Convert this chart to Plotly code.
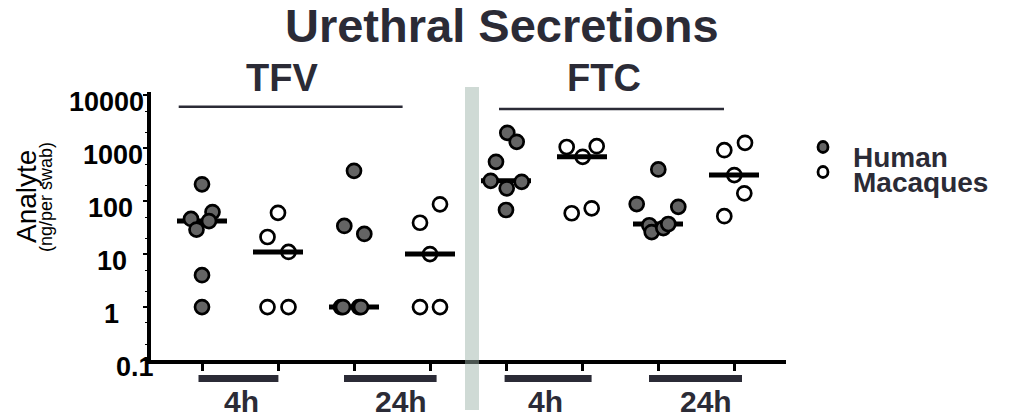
import numpy as np
import plotly.graph_objects as go

# ---------------- data ----------------
GROUP_NAMES = ["TFV 4h Human", "TFV 4h Macaques", "TFV 24h Human", "TFV 24h Macaques",
               "FTC 4h Human", "FTC 4h Macaques", "FTC 24h Human", "FTC 24h Macaques"]
SPECIES = ["Human", "Macaques", "Human", "Macaques", "Human", "Macaques", "Human", "Macaques"]

TFV_4H_HUMAN = [207, 62, 46, 42, 29, 4.0, 1.0]
TFV_4H_MACAQUE = [60, 21, 11, 1, 1]
TFV_24H_HUMAN = [373, 34, 24, 1, 1, 1, 1]
TFV_24H_MACAQUE = [87, 39, 10, 1, 1]
FTC_4H_HUMAN = [1945, 1315, 552, 242, 174, 231, 68]
FTC_4H_MACAQUE = [1050, 685, 1090, 59, 73]
FTC_24H_HUMAN = [396, 88, 78, 35, 26, 31, 37]
FTC_24H_MACAQUE = [917, 1259, 310, 140, 52]

GROUP_VALUES = [TFV_4H_HUMAN, TFV_4H_MACAQUE, TFV_24H_HUMAN, TFV_24H_MACAQUE,
                FTC_4H_HUMAN, FTC_4H_MACAQUE, FTC_24H_HUMAN, FTC_24H_MACAQUE]

Y_TICK_VALUES = [10000, 1000, 100, 10, 1, 0.1]
Y_TICK_LABELS = ["10000", "1000", "100", "10", "1", "0.1"]
DRUG_LABELS = ["TFV", "FTC"]
TIME_LABELS = ["4h", "24h", "4h", "24h"]
LEGEND_LABELS = ["Human", "Macaques"]
TITLE = "Urethral Secretions"
Y_TITLE_1 = "Analyte"
Y_TITLE_2 = "(ng/per swab)"

# ---------------- layout / styling (pixels) ----------------
W, H = 1011, 418
PL, PR, PT, PB = 151, 786, 92, 360          # plot area in pixels
X0_PX, X_STEP = 202, 76                      # pixel of category 0, pixels per category
X_RANGE = [(PL - X0_PX) / X_STEP, (PR - X0_PX) / X_STEP]
Y_RANGE = [-1, 4.06]

# horizontal jitter of the dots (pixels), purely visual
JITTER_PX = [
    [0, 10.5, -11, 7, -5.5, 0, 0],
    [0, -10.5, 10.5, -10.5, 10.5],
    [0, -9.7, 10.3, -13, -11, 5, 7],
    [10, -10, 0, -10, 10],
    [1.3, 10.7, -10, -15.3, 0.7, 15.7, 0],
    [-15.3, 0.7, 14.7, -10.3, 9.7],
    [0.3, -21.3, 20.3, -8.7, -6.3, 5.3, 10.3],
    [-9.7, 11, 0.3, 10.3, -9.7],
]
MEDIAN_HALF = 25 / X_STEP

TEXT_DARK = "#2b2b36"
FILL_GRAY = "#646464"
FONT = "Liberation Sans, Arial, sans-serif"


def px_x(px):
    return (px - PL) / (PR - PL)


def px_y(py):
    return (PB - py) / (PB - PT)


fig = go.Figure()

for i, (vals, sp) in enumerate(zip(GROUP_VALUES, SPECIES)):
    xs = [i + j / X_STEP for j in JITTER_PX[i]]
    med = float(np.median(vals))
    human = sp == "Human"
    marker = dict(size=14, color=FILL_GRAY if human else "white",
                  line=dict(color="black", width=2.7))
    med_trace = go.Scatter(x=[i - MEDIAN_HALF, i + MEDIAN_HALF], y=[med, med],
                           mode="lines", line=dict(color="black", width=5),
                           hoverinfo="skip", showlegend=False)
    pts = go.Scatter(x=xs, y=vals, mode="markers", marker=marker,
                     name=GROUP_NAMES[i], showlegend=False)
    if human:
        fig.add_trace(med_trace)
        fig.add_trace(pts)
    else:
        fig.add_trace(pts)
        fig.add_trace(med_trace)

fig.update_xaxes(range=X_RANGE, showgrid=False, zeroline=False,
                 showline=True, linecolor="black", linewidth=3.5,
                 tickmode="array", tickvals=list(range(len(GROUP_NAMES))),
                 ticks="outside", ticklen=7, tickwidth=3, tickcolor="black",
                 showticklabels=False)
fig.update_yaxes(type="log", range=Y_RANGE, showgrid=False, zeroline=False,
                 showline=True, linecolor="black", linewidth=4,
                 tickmode="array", tickvals=Y_TICK_VALUES,
                 ticks="outside", ticklen=4, tickwidth=2, tickcolor="black",
                 minor=dict(ticks="outside", ticklen=2, tickwidth=1, tickcolor="black"),
                 showticklabels=False)

ann = []
# y tick labels
LABEL_CX = [106, 113, 110.5, 112, 111.5, 135]
for v, t, cx in zip(Y_TICK_VALUES, Y_TICK_LABELS, LABEL_CX):
    ann.append(dict(x=px_x(cx), xref="paper", y=np.log10(v), yref="y", text=t,
                    showarrow=False, xanchor="center", yanchor="middle", yshift=-7,
                    font=dict(family=FONT, size=27, color="black", weight="bold")))
# y title
ann.append(dict(x=px_x(26), xref="paper", y=px_y(197), yref="paper", text=Y_TITLE_1,
                textangle=-90, showarrow=False, xanchor="center", yanchor="middle",
                font=dict(family=FONT, size=28, color="black")))
ann.append(dict(x=px_x(46), xref="paper", y=px_y(197), yref="paper", text=Y_TITLE_2,
                textangle=-90, showarrow=False, xanchor="center", yanchor="middle",
                font=dict(family=FONT, size=18, color="black")))
# title
ann.append(dict(x=px_x(502), xref="paper", y=px_y(25), yref="paper", text=TITLE,
                showarrow=False, xanchor="center", yanchor="middle",
                font=dict(family=FONT, size=47, color=TEXT_DARK, weight="bold")))
# drug labels
for lab, cx in zip(DRUG_LABELS, [282, 603.5]):
    ann.append(dict(x=px_x(cx), xref="paper", y=px_y(78), yref="paper", text=lab,
                    showarrow=False, xanchor="center", yanchor="middle",
                    font=dict(family=FONT, size=38, color=TEXT_DARK, weight="bold")))
# time labels
for lab, cx in zip(TIME_LABELS, [241, 401, 545, 706]):
    ann.append(dict(x=px_x(cx), xref="paper", y=px_y(401), yref="paper", text=lab,
                    showarrow=False, xanchor="center", yanchor="middle",
                    font=dict(family=FONT, size=30, color=TEXT_DARK, weight="bold")))
# legend labels
for lab, cy in zip(LEGEND_LABELS, [157, 182]):
    ann.append(dict(x=px_x(851), xref="paper", y=px_y(cy), yref="paper", text=lab,
                    showarrow=False, xanchor="left", yanchor="middle",
                    font=dict(family=FONT, size=28, color=TEXT_DARK, weight="bold")))

shapes = []
# drug underline bars
for (a, b, yy) in [(178.7, 402.6, 106.7), (499, 724, 109)]:
    shapes.append(dict(type="line", xref="paper", yref="paper",
                       x0=px_x(a), x1=px_x(b), y0=px_y(yy), y1=px_y(yy),
                       line=dict(color=TEXT_DARK, width=2.4)))
# time bars below axis
for (a, b) in [(198.5, 278.4), (344, 436.6), (504.6, 591.6), (649, 742)]:
    shapes.append(dict(type="rect", xref="paper", yref="paper",
                       x0=px_x(a), x1=px_x(b), y0=px_y(375), y1=px_y(382),
                       line=dict(width=0), fillcolor=TEXT_DARK))
# gray separator
shapes.append(dict(type="rect", xref="paper", yref="paper", layer="above",
                   x0=px_x(465), x1=px_x(479), y0=px_y(87), y1=px_y(410),
                   line=dict(width=0), fillcolor="rgb(155,178,167)", opacity=0.48))
# legend symbols
for cy, fill in [(147, FILL_GRAY), (172, "white")]:
    shapes.append(dict(type="circle", xref="paper", yref="paper",
                       xsizemode="pixel", ysizemode="pixel",
                       xanchor=px_x(823), yanchor=px_y(cy),
                       x0=-5, x1=5, y0=-5.5, y1=5.5,
                       fillcolor=fill, line=dict(color="black", width=2.8)))

fig.update_layout(width=W, height=H, autosize=False,
                  margin=dict(l=PL, r=W - PR, t=PT, b=H - PB, pad=0),
                  paper_bgcolor="white", plot_bgcolor="white",
                  annotations=ann, shapes=shapes, showlegend=False)

fig.write_html("out.html", config={"displayModeBar": False},
               post_script="document.body.style.margin='0';document.body.style.overflow='hidden';")
